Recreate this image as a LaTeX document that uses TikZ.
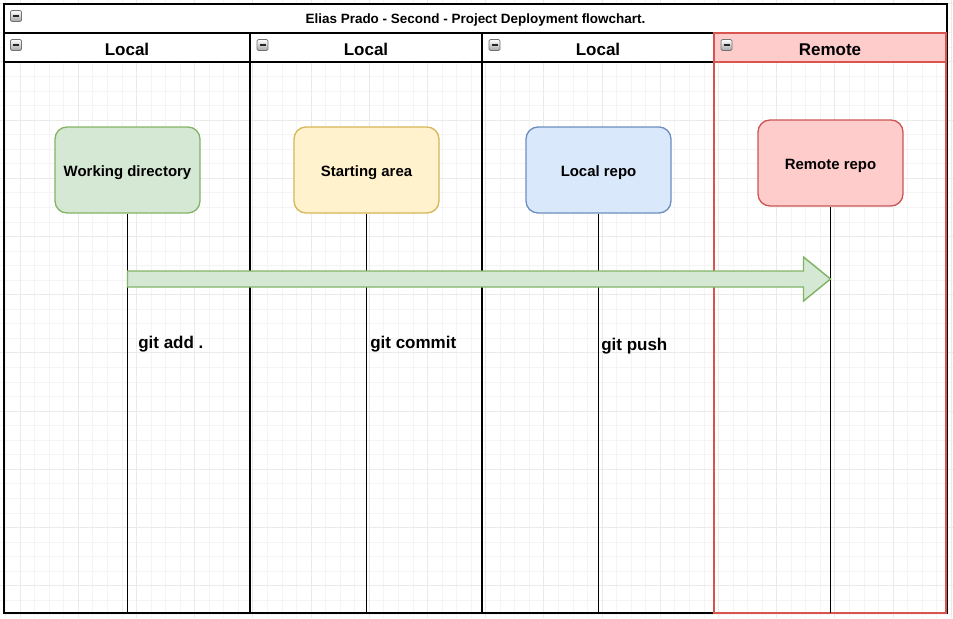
\documentclass[tikz,border=0pt]{standalone}
\usepackage{fontspec}
\setmainfont{Liberation Sans}
\usetikzlibrary{calc}
\definecolor{gridminor}{HTML}{F4F4F4}
\definecolor{gridmajor}{HTML}{EAEAEA}
\definecolor{greenfill}{HTML}{D5E8D4}
\definecolor{greenline}{HTML}{82B366}
\definecolor{yellowfill}{HTML}{FFF2CC}
\definecolor{yellowline}{HTML}{D6B656}
\definecolor{bluefill}{HTML}{DAE8FC}
\definecolor{blueline}{HTML}{6C8EBF}
\definecolor{redfill}{HTML}{FFCCCC}
\definecolor{redline}{HTML}{CC5555}
\definecolor{lanered}{HTML}{D9534F}
\definecolor{lanepink}{HTML}{FFCCCC}
\begin{document}
\begin{tikzpicture}[x=0.75pt,y=-0.75pt,
  gminor/.style={draw=gridminor,line width=0.5pt},
  gmajor/.style={draw=gridmajor,line width=0.5pt},
  border/.style={draw=black,line width=1.5pt},
  lifeline/.style={draw=black,line width=1.1pt},
  stepbox/.style={rounded corners=9pt,line width=1pt,minimum width=145*0.75pt,minimum height=86*0.75pt,inner sep=0pt,
    font=\fontsize{11.2}{13}\selectfont\bfseries,text height=9pt,text depth=0pt},
  headtext/.style={font=\fontsize{12.75}{15}\selectfont\bfseries,inner sep=0pt},
  cmdtext/.style={font=\fontsize{12.75}{15}\selectfont\bfseries,inner sep=0pt},
  icon/.style={draw=black!55,top color=white,bottom color=black!35,rounded corners=1pt,line width=0.6pt}
]
\useasboundingbox (0,0) rectangle (953,618);
% grid
\foreach \i in {-5,...,60} \draw[gminor] ({78.2+\i*14.55},0) -- ({78.2+\i*14.55},618);
\foreach \i in {-8,...,34} \draw[gminor] (0,{120+\i*14.55}) -- (953,{120+\i*14.55});
\foreach \i in {-1,...,15} \draw[gmajor] ({78.2+\i*58.2},0) -- ({78.2+\i*58.2},618);
\foreach \i in {-2,...,8} \draw[gmajor] (0,{120+\i*58.2}) -- (953,{120+\i*58.2});
% title and headers
\fill[white] (4,4) rectangle (947,62);
\fill[lanepink] (714,33) rectangle (945.5,62);
\draw[border] (4,4) rectangle (947,613);
\draw[border] (4,33) -- (947,33);
\draw[border] (4,62) -- (714,62);
\draw[border] (250,33) -- (250,613);
\draw[border] (482,33) -- (482,613);
\draw[draw=lanered,line width=1.5pt] (714,33) rectangle (945.5,613);
\draw[draw=lanered,line width=1.5pt] (714,62) -- (945.5,62);
% icons
\foreach \x/\y in {10.5/10.5,10.5/39.5,257/39.5,489/39.5,721/39.5}{
  \draw[icon] (\x,\y) rectangle ++(11,11);
  \draw[line width=1.3pt,black!85] (\x+2.5,\y+5.5) -- (\x+8.5,\y+5.5);
}
\node[font=\fontsize{10.1}{12}\selectfont\bfseries,inner sep=0pt] (title) at (475.5,20.5) {Elias Prado - Second - Project Deployment flowchart.};
\node[headtext] (h1) at (127,49.5) {Local};
\node[headtext] (h2) at (366,49.5) {Local};
\node[headtext] (h3) at (598,49.5) {Local};
\node[headtext] (h4) at (830,49.5) {Remote};
% steps
\node[stepbox,draw=greenline,fill=greenfill] (wd) at (127.5,170) {Working directory};
\node[stepbox,draw=yellowline,fill=yellowfill] (sa) at (366.5,170) {Starting area};
\node[stepbox,draw=blueline,fill=bluefill] (lr) at (598.5,170) {Local repo};
\node[stepbox,draw=redline,fill=redfill] (rr) at (830.5,163) {Remote repo};
% lifelines
\coordinate (wdend) at (127.5,613);
\coordinate (saend) at (366.5,613);
\coordinate (lrend) at (598.5,613);
\coordinate (rrend) at (830.5,613);
\draw[lifeline] (wd.south) -- (wdend);
\draw[lifeline] (sa.south) -- (saend);
\draw[lifeline] (lr.south) -- (lrend);
\draw[lifeline] (rr.south) -- (rrend);
% big arrow
\coordinate (astart) at (127.5,279);
\coordinate (aend) at (830.5,279);
\filldraw[draw=greenline,fill=greenfill,line width=1.1pt,line join=miter]
  ($(astart)+(0,-8)$) -- ($(aend)+(-27,-8)$) -- ($(aend)+(-27,-22)$) -- (aend)
  -- ($(aend)+(-27,22)$) -- ($(aend)+(-27,8)$) -- ($(astart)+(0,8)$) -- cycle;
% commands
\node[cmdtext,anchor=west] (c1) at (138,344) {git add .};
\node[cmdtext,anchor=west] (c2) at (370,344) {git commit};
\node[cmdtext,anchor=west] (c3) at (601,346.5) {git push};
\end{tikzpicture}
\end{document}
